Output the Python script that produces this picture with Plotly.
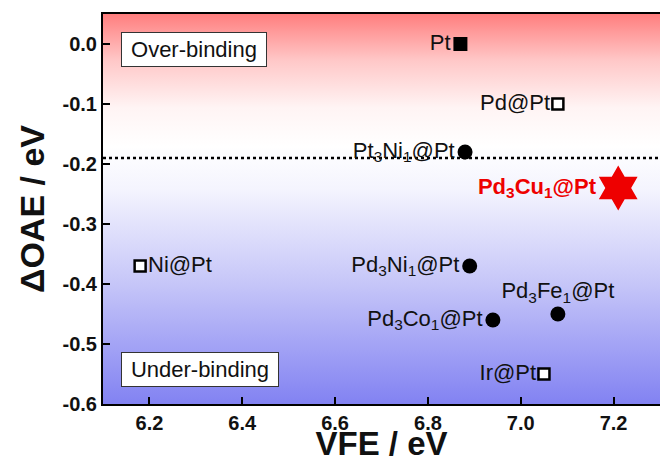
import plotly.graph_objects as go

# ---- data ----
solid_sq_names = ["Pt"]
solid_sq_vfe = [6.87]
solid_sq_oae = [0.00]

open_sq_names = ["Pd@Pt", "Ni@Pt", "Ir@Pt"]
open_sq_vfe = [7.08, 6.18, 7.05]
open_sq_oae = [-0.10, -0.37, -0.55]
open_sq_pos = ["middle left", "middle right", "middle left"]

circle_names = ["Pt<sub>3</sub>Ni<sub>1</sub>@Pt", "Pd<sub>3</sub>Ni<sub>1</sub>@Pt",
                "Pd<sub>3</sub>Co<sub>1</sub>@Pt", "Pd<sub>3</sub>Fe<sub>1</sub>@Pt"]
circle_vfe = [6.88, 6.89, 6.94, 7.08]
circle_oae = [-0.18, -0.37, -0.46, -0.45]
circle_pos = ["middle left", "middle left", "middle left", "top center"]

star_names = ["<b>Pd<sub>3</sub>Cu<sub>1</sub>@Pt</b>"]
star_vfe = [7.21]
star_oae = [-0.24]

threshold_oae = -0.19

x_range = [6.1, 7.3]
y_range = [-0.6, 0.05]
x_ticks = [6.2, 6.4, 6.6, 6.8, 7.0, 7.2]
y_ticks = [0.0, -0.1, -0.2, -0.3, -0.4, -0.5, -0.6]

FONT = "Liberation Sans, Arial, sans-serif"

fig = go.Figure()

# gradient background
fig.add_trace(go.Scatter(
    x=[x_range[0], x_range[1], x_range[1], x_range[0], x_range[0]],
    y=[y_range[0], y_range[0], y_range[1], y_range[1], y_range[0]],
    mode="none", fill="toself", hoverinfo="skip", showlegend=False,
    fillgradient=dict(type="vertical", start=y_range[0], stop=y_range[1],
                      colorscale=[[0.0, "#8282F2"], [0.3, "#C4C4F8"], [0.55, "#F4F4FE"],
                                  [0.66, "#FFFFFF"], [0.76, "#FFF4F4"], [0.88, "#FFC8C8"],
                                  [1.0, "#FF7E7E"]]),
))

# threshold line
fig.add_trace(go.Scatter(
    x=x_range, y=[threshold_oae, threshold_oae], mode="lines",
    line=dict(color="black", width=2.5, dash="dot"), hoverinfo="skip", showlegend=False,
))

lab_font = dict(family=FONT, size=22, color="#111111")

fig.add_trace(go.Scatter(
    x=solid_sq_vfe, y=solid_sq_oae, text=solid_sq_names, mode="markers+text",
    textposition="middle left", textfont=lab_font,
    marker=dict(symbol="square", size=14, color="black"), showlegend=False,
))
fig.add_trace(go.Scatter(
    x=open_sq_vfe, y=open_sq_oae, text=open_sq_names, mode="markers+text",
    textposition=open_sq_pos, textfont=lab_font,
    marker=dict(symbol="square", size=11, color="white", line=dict(color="black", width=2.5)),
    showlegend=False,
))
fig.add_trace(go.Scatter(
    x=circle_vfe, y=circle_oae, text=circle_names, mode="markers+text",
    textposition=circle_pos, textfont=lab_font,
    marker=dict(symbol="circle", size=15, color="black"), showlegend=False,
))
fig.add_trace(go.Scatter(
    x=star_vfe, y=star_oae, text=star_names, mode="markers+text",
    textposition="middle left", textfont=dict(family=FONT, size=22, color="#EE0000"),
    marker=dict(symbol="hexagram", size=34, color="#EE0000"), showlegend=False,
))

fig.add_annotation(xref="paper", yref="paper", x=0.032, y=0.909, xanchor="left", yanchor="middle",
                   text="Over-binding", showarrow=False, bgcolor="white", width=136,
                   bordercolor="#333333", borderwidth=1, borderpad=4,
                   font=dict(family=FONT, size=22, color="#111111"))
fig.add_annotation(xref="paper", yref="paper", x=0.032, y=0.088, xanchor="left", yanchor="middle",
                   text="Under-binding", showarrow=False, bgcolor="white", width=148,
                   bordercolor="#333333", borderwidth=1, borderpad=4,
                   font=dict(family=FONT, size=22, color="#111111"))

fig.update_layout(
    width=660, height=462,
    margin=dict(l=103, r=0, t=14, b=58, autoexpand=False),
    paper_bgcolor="white", plot_bgcolor="white",
    font=dict(family=FONT),
    xaxis=dict(range=x_range, tickvals=x_ticks, ticktext=[f"<b>{v:.1f}</b>" for v in x_ticks],
               ticks="inside", ticklen=7, tickwidth=2, tickcolor="black",
               showline=True, linecolor="black", linewidth=2, mirror=True,
               showgrid=False, zeroline=False, automargin=False,
               tickfont=dict(family=FONT, size=20, color="#111111"),
               title=dict(text="<b>VFE / eV</b>", font=dict(family=FONT, size=33, color="#111111"),
                          standoff=0)),
    yaxis=dict(range=y_range, tickvals=y_ticks, ticktext=[f"<b>{v:.1f}</b>" for v in y_ticks],
               ticks="inside", ticklen=7, tickwidth=2, tickcolor="black",
               showline=True, linecolor="black", linewidth=2, mirror=False,
               showgrid=False, zeroline=False, automargin=False,
               tickfont=dict(family=FONT, size=20, color="#111111"),
               title=dict(text="<b>ΔOAE / eV</b>", font=dict(family=FONT, size=34, color="#111111"),
                          standoff=8)),
)

fig.write_html("out.html", config={"displayModeBar": False})

with open("out.html", "r", encoding="utf-8") as f:
    html = f.read()
html = html.replace("<head>", "<head><style>html,body{margin:0;padding:0;overflow:hidden;}</style>", 1)
with open("out.html", "w", encoding="utf-8") as f:
    f.write(html)
